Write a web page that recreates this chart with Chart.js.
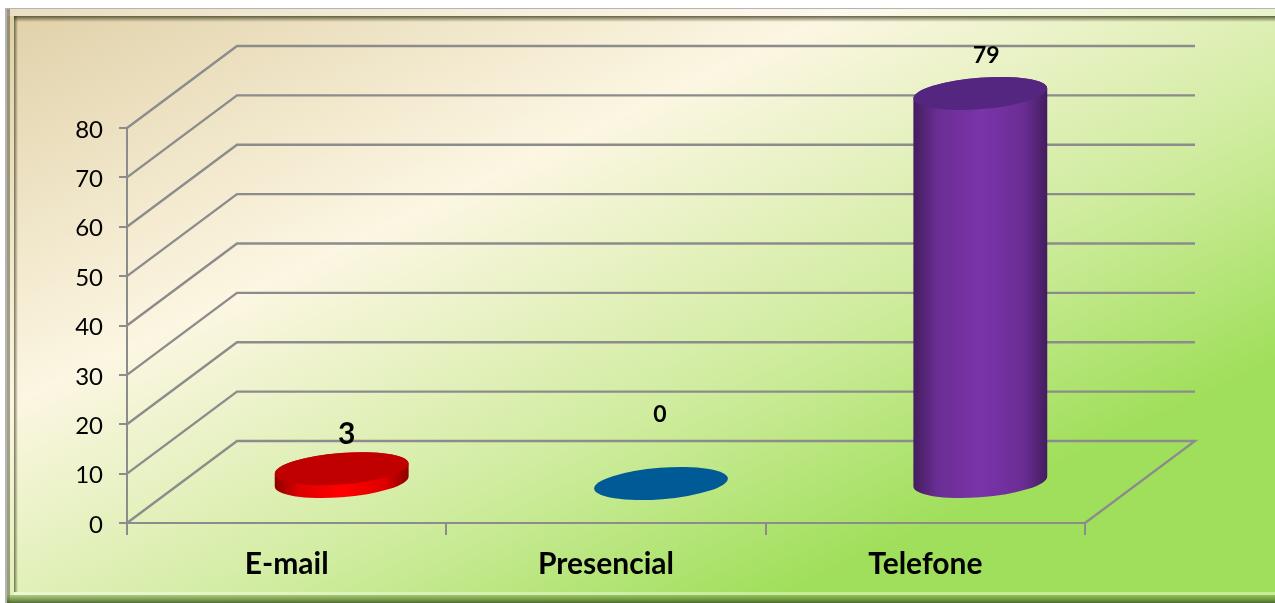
<!DOCTYPE html>
<html>
<head>
<meta charset="utf-8">
<style>
html, body { margin: 0; padding: 0; background: #fff; overflow: hidden; }
#wrap { position: relative; width: 1275px; height: 603px; }
</style>
<script src="https://cdn.jsdelivr.net/npm/chart.js@4/dist/chart.umd.min.js"></script>
</head>
<body>
<div id="wrap"><canvas id="chart" width="1275" height="603"></canvas></div>
<script>
const categories = ['E-mail', 'Presencial', 'Telefone'];
const values = [3, 0, 79];
const yTicks = [0, 10, 20, 30, 40, 50, 60, 70, 80];

const capColors = ['#c00000', '#005a96', '#55267f'];
const midColors = ['#ff0000', '#0070b8', '#7a34aa'];

const gridColor = '#8c8c8c';
const depthX = 110, depthY = 82;
const FONT = 'Lato, "Open Sans", sans-serif';

// background and the bevel round the picture
const framePlugin = {
    id: 'frame',
    beforeDraw(chart) {
        const ctx = chart.ctx, W = 1275, H = 603;
        ctx.save();
        ctx.fillStyle = '#fff';
        ctx.fillRect(0, 0, W, H);
        const g = ctx.createLinearGradient(0, 0, 466, 985);
        g.addColorStop(0, '#dfcfa6');
        g.addColorStop(0.34, '#fcf6e2');
        g.addColorStop(0.6, '#cfec9e');
        g.addColorStop(0.8, '#a0df5b');
        g.addColorStop(1, '#a0df5b');
        ctx.fillStyle = g;
        ctx.fillRect(5, 8, W - 5, H - 8);
        // top
        ctx.fillStyle = 'rgba(255,255,255,0.3)';
        ctx.fillRect(7, 9, W, 7);
        let s = ctx.createLinearGradient(0, 16, 0, 22);
        s.addColorStop(0, 'rgba(50,50,20,0.75)');
        s.addColorStop(1, 'rgba(50,50,20,0)');
        ctx.fillStyle = s;
        ctx.fillRect(14, 16, W, 6);
        // left
        ctx.fillStyle = 'rgba(60,60,30,0.45)';
        ctx.fillRect(7, 9, 3, H - 9);
        s = ctx.createLinearGradient(14, 0, 18, 0);
        s.addColorStop(0, 'rgba(50,50,20,0.65)');
        s.addColorStop(1, 'rgba(50,50,20,0)');
        ctx.fillStyle = s;
        ctx.fillRect(14, 16, 4, H - 27);
        // bottom
        ctx.fillStyle = 'rgba(255,255,255,0.4)';
        ctx.fillRect(14, 592, W, 3);
        s = ctx.createLinearGradient(0, 595, 0, 603);
        s.addColorStop(0, 'rgba(120,170,70,0.5)');
        s.addColorStop(1, 'rgba(70,90,40,0.9)');
        ctx.fillStyle = s;
        ctx.fillRect(7, 595, W, 8);
        // outer line
        ctx.fillStyle = '#b4b4b4';
        ctx.fillRect(5, 8, W, 1);
        ctx.fillRect(5, 8, 2, H);
        ctx.restore();
    }
};

// side wall and back wall lines, taken from the axis scales
const wallsPlugin = {
    id: 'walls',
    beforeDatasetsDraw(chart) {
        const ctx = chart.ctx, y = chart.scales.y, area = chart.chartArea;
        ctx.save();
        ctx.strokeStyle = gridColor;
        ctx.lineWidth = 2.4;
        yTicks.forEach(v => {
            const py = y.getPixelForValue(v);
            ctx.beginPath();
            ctx.moveTo(area.left, py);
            ctx.lineTo(area.left + depthX, py - depthY);
            ctx.lineTo(area.right + depthX, py - depthY);
            if (v === 0) ctx.lineTo(area.right, py);
            ctx.stroke();
        });
        ctx.restore();
    }
};

// bars are drawn as tilted cylinders at the bar element positions
const cylinderPlugin = {
    id: 'cylinder',
    afterDatasetsDraw(chart) {
        const ctx = chart.ctx;
        const tilt = -4.5 * Math.PI / 180;
        chart.getDatasetMeta(0).data.forEach((el, i) => {
            const a = el.width / 2, b = a * 0.234;
            const cx = el.x + depthX / 2;
            const top = el.y - depthY / 2 + 1.5;
            const bot = el.base - depthY / 2 + 0.5;
            const t0 = Math.atan((b / a) * Math.tan(-tilt));
            if (bot - top > 0.5) {
                // side of the cylinder: base colour, shaded towards both edges
                const shade = ctx.createLinearGradient(cx - a, 0, cx + a, 0);
                shade.addColorStop(0, 'rgba(0,0,0,0.45)');
                shade.addColorStop(0.18, 'rgba(0,0,0,0.13)');
                shade.addColorStop(0.5, 'rgba(0,0,0,0)');
                shade.addColorStop(0.82, 'rgba(0,0,0,0.13)');
                shade.addColorStop(1, 'rgba(0,0,0,0.45)');
                [midColors[i], shade].forEach(fill => {
                    ctx.fillStyle = fill;
                    ctx.beginPath();
                    ctx.ellipse(cx, bot, a, b, tilt, t0, t0 + Math.PI);
                    ctx.ellipse(cx, top, a, b, tilt, t0 + Math.PI, t0 + 2 * Math.PI);
                    ctx.closePath();
                    ctx.fill();
                });
            }
            ctx.fillStyle = capColors[i];
            ctx.beginPath();
            ctx.ellipse(cx, top, a, b, tilt, 0, 2 * Math.PI);
            ctx.fill();
        });
    }
};

// the labels were moved by hand in the original, so each has its own offset
const valueLabelPlugin = {
    id: 'valueLabels',
    afterDraw(chart, args, opts) {
        const ctx = chart.ctx;
        ctx.save();
        ctx.fillStyle = '#000';
        ctx.textAlign = 'center';
        ctx.textBaseline = 'middle';
        chart.getDatasetMeta(0).data.forEach((el, i) => {
            ctx.font = 'bold ' + opts.sizes[i] + 'px ' + FONT;
            ctx.fillText(String(values[i]), el.x + opts.dx[i], el.y + opts.dy[i]);
        });
        ctx.restore();
    }
};

new Chart(document.getElementById('chart'), {
    type: 'bar',
    data: {
        labels: categories,
        datasets: [{
            data: values,
            backgroundColor: 'rgba(0,0,0,0)',
            borderWidth: 0,
            barPercentage: 0.42,
            categoryPercentage: 1
        }]
    },
    plugins: [framePlugin, wallsPlugin, cylinderPlugin, valueLabelPlugin],
    options: {
        responsive: false,
        animation: false,
        layout: { padding: { left: 0, right: 190, top: 128, bottom: 0 } },
        plugins: {
            legend: { display: false },
            title: { display: false },
            tooltip: { enabled: false },
            valueLabels: { sizes: [30, 23, 23], dx: [60, 54, 61], dy: [-74, -108, -77] }
        },
        scales: {
            x: {
                afterFit(scale) { scale.height = 80; },
                grid: { drawOnChartArea: false, drawTicks: true, tickLength: 12, color: gridColor, lineWidth: 2 },
                border: { display: true, color: gridColor, width: 2 },
                ticks: { color: '#000', font: { family: FONT, size: 30, weight: 'bold' }, padding: 11, maxRotation: 0 }
            },
            y: {
                min: 0,
                max: 80,
                afterFit(scale) { scale.width = 127; },
                afterBuildTicks(scale) { scale.ticks = yTicks.map(v => ({ value: v })); },
                grid: { drawOnChartArea: false, drawTicks: true, tickLength: 8, color: gridColor, lineWidth: 2 },
                border: { display: true, color: gridColor, width: 2 },
                ticks: { color: '#000', font: { family: FONT, size: 24 }, padding: 16, labelOffset: 2 }
            }
        }
    }
});
</script>
</body>
</html>
